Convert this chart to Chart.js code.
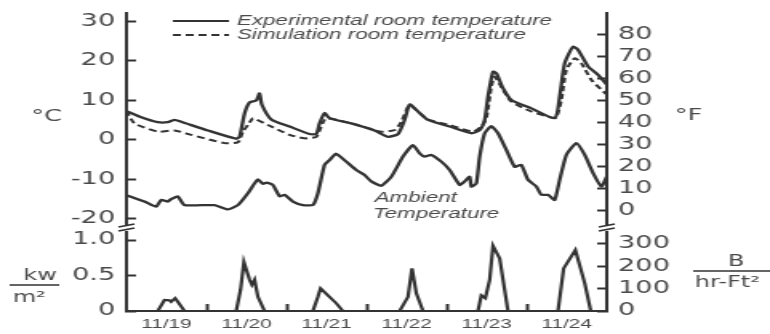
<!DOCTYPE html>
<html>
<head>
<meta charset="utf-8">
<script src="https://cdn.jsdelivr.net/npm/chart.js@4/dist/chart.umd.min.js"></script>
<style>
  html, body { margin: 0; padding: 0; background: #fff; }
  #chart { display: block; width: 770px !important; height: 334px !important; }
</style>
</head>
<body>
<!-- the scanned figure is stretched sideways, so the canvas is drawn narrow and widened by CSS -->
<canvas id="chart" width="481" height="334" style="width:770px;height:334px"></canvas>
<script>
const dayLabels = ["11/19", "11/20", "11/21", "11/22", "11/23", "11/24"];
const dayTickHours = [12, 24, 36, 48, 60, 72, 84, 96, 108, 120, 132];
const tempTicksC = [-20, -10, 0, 10, 20, 30];
const tempTicksF = [0, 10, 20, 30, 40, 50, 60, 70, 80];
const solarTicksKw = [0, 0.5, 1.0];
const solarTicksBtu = [0, 100, 200, 300];

// axis ranges (deg C and kW/m2), right axes are converted from these
const cMin = -22.3, cMax = 32.15;
const kwMax = 1.17;

// hours from 11/19 00:00
const expHours = [0, 4, 9.4, 12.4, 14.4, 16.4, 24.4, 32.9, 33.9, 35.4, 36.9, 38.9, 39.9, 40.6, 43.4, 48.9,
  54.9, 56.9, 57.9, 59.4, 60.9, 67.4, 74.4, 78.4, 81.4, 83.4, 84.9, 86.9, 90.4, 96.9,
  103.4, 105.9, 107.4, 108.4, 109.9, 110.9, 112.9, 115.4, 121.4, 128.4, 129.9, 131.4, 133.9, 135.4, 138.4, 141.4, 144];
const expTempC = [7.3, 5.9, 4.5, 4.5, 5.1, 4.6, 2.4, 0.3, 0.8, 6.7, 9.5, 10, 11.8, 8.9, 5.2, 3.4,
  1.5, 1.5, 4.2, 6.8, 5.5, 4.2, 2.4, 0.8, 1.5, 5.1, 9, 7.6, 5.1, 3.4,
  1.7, 2.5, 5.1, 11, 17.3, 16.9, 13.1, 10.1, 8, 5.5, 11, 19.4, 23.6, 22.8, 18.6, 16.5, 14];

const simHours = [0, 2.4, 9.4, 14.4, 19.4, 29.4, 33.4, 34.9, 36.4, 37.9, 38.9, 43.4, 48.9,
  53.4, 56.9, 58.4, 59.9, 67.4, 76.4, 80.4, 82.4, 84.4, 85.4, 90.4, 96.9,
  103.9, 106.4, 107.9, 109.4, 110.4, 112.9, 115.4, 121.4, 127.4, 128.9, 130.4, 131.9, 134.4, 136.4, 139.4, 144];
const simTempC = [7.3, 4.2, 2.1, 2.4, 1.3, -0.8, -0.6, 2.1, 3.8, 5.5, 5.2, 3.4, 1.3,
  0.4, 0.8, 3.4, 5.5, 4.2, 2.1, 2.5, 4.6, 8.4, 8.6, 5.2, 3.8,
  2.1, 3.4, 5.5, 13.5, 16, 12.7, 9.7, 7.2, 5.7, 5.7, 10.1, 17.7, 20.7, 19.4, 15.2, 11.5];

const ambHours = [0, 5.4, 8.9, 10.4, 12.4, 13.4, 15.4, 17.4, 26.4, 30.4, 33.4, 36.4, 38.4, 39.4, 40.9, 42, 43.9, 45.9, 47.4,
  49.9, 52.9, 55.9, 57.4, 59.4, 60.9, 62.9, 65.9, 68.9, 71.4, 73.4, 76.4, 79.4, 82.9, 85.9, 87.9, 89.4, 91.4, 94.4, 96.9,
  99.9, 101.4, 102.9, 103.4, 104.9, 105.9, 107.4, 109.4, 111.4, 113.9, 116.4, 118.4, 120.4, 122.9, 124.4, 126.4, 128.4,
  129.9, 131.9, 134.9, 137.4, 139.9, 142.4, 144];
const ambTempC = [-14, -15.6, -16.9, -15.2, -15.6, -15, -14.3, -16.5, -16.5, -17.6, -16.5, -13.5, -11, -10, -11.1, -10.8, -11.4, -14.3, -13.9,
  -15.6, -16.5, -16.5, -13.5, -6.3, -5.1, -3.5, -5.5, -7.6, -8.9, -10.5, -11.6, -9.3, -4.2, -1.3, -3.4, -4.2, -3.8, -5.5, -7.6,
  -11.4, -10.5, -9.3, -11.8, -11, -4.2, 1.7, 3.5, 1.7, -2.5, -6.8, -6.3, -10.1, -11.8, -13.9, -13.9, -15.2,
  -10.1, -3.8, -0.8, -3.8, -8.4, -11.8, -9.3];

const solarHours = [0, 9.4, 11.4, 12.9, 13.4, 14.6, 15.4, 17.4, 32.9, 34.2, 35.2, 36.9, 37.6, 38.4, 39.4, 41.4,
  55.9, 57.4, 58.2, 60.4, 62.9, 64.9, 81.9, 84.4, 85.6, 86.9, 88.9,
  105.4, 106.4, 107.6, 108.9, 109.9, 111.9, 114.4, 129.4, 131.1, 134.6, 137.4, 139.2, 144];
const solarKw = [0, 0, 0.155, 0.15, 0.13, 0.18, 0.13, 0, 0, 0.3, 0.69, 0.44, 0.37, 0.44, 0.2, 0,
  0, 0.2, 0.32, 0.22, 0.11, 0, 0, 0.2, 0.6, 0.25, 0,
  0, 0.22, 0.18, 0.44, 0.92, 0.74, 0, 0, 0.6, 0.86, 0.39, 0, 0];

const ink = "#333333";
const textInk = "#4a4a4a";

const pts = (xs, ys) => xs.map((x, i) => ({ x: x, y: ys[i] }));

// texts and marks that sit in the figure itself
const extras = {
  id: "extras",
  afterDraw(chart) {
    const ctx = chart.ctx;
    const a = chart.chartArea;
    const yBreak = chart.scales.yC.bottom;
    ctx.save();
    ctx.fillStyle = textInk;
    ctx.strokeStyle = ink;

    // legend (top left, inside the plot)
    chart.data.datasets.slice(0, 2).forEach((ds, i) => {
      const y = 21 + i * 14;
      ctx.lineWidth = 2;
      ctx.setLineDash(ds.borderDash || []);
      ctx.beginPath();
      ctx.moveTo(108, y);
      ctx.lineTo(143, y);
      ctx.stroke();
      ctx.setLineDash([]);
      ctx.font = "italic 14px 'Liberation Sans'";
      ctx.textAlign = "left";
      ctx.textBaseline = "middle";
      ctx.fillText(ds.label, 148, y);
    });

    ctx.font = "italic 14px 'Liberation Sans'";
    ctx.fillText("Ambient", 234, 198);
    ctx.fillText("Temperature", 233, 214);

    // units
    ctx.font = "16px 'DejaVu Sans'";
    ctx.textAlign = "center";
    ctx.fillText("°C", 29, 117);
    ctx.fillText("°F", 430, 116);

    ctx.font = "15px 'DejaVu Sans'";
    ctx.fillText("kw", 25, 276);
    ctx.fillText("B", 460, 262);
    ctx.textAlign = "left";
    ctx.fillText("m²", 8, 298);
    ctx.fillText("hr-Ft²", 434, 283);
    ctx.lineWidth = 1.5;
    ctx.beginPath();
    ctx.moveTo(6, 285); ctx.lineTo(37, 285);
    ctx.moveTo(433, 271); ctx.lineTo(481, 271);
    ctx.stroke();

    // axis breaks between the two panels
    [a.left, a.right].forEach(x => {
      ctx.fillStyle = "#fff";
      ctx.fillRect(x - 2, yBreak - 3, 4, 6);
      ctx.lineWidth = 1.6;
      ctx.beginPath();
      ctx.moveTo(x - 5, yBreak - 1); ctx.lineTo(x + 5, yBreak - 4);
      ctx.moveTo(x - 5, yBreak + 3); ctx.lineTo(x + 5, yBreak);
      ctx.stroke();
    });
    ctx.restore();
  }
};

const tickFont = { family: "DejaVu Sans", size: 17 };
const yGrid = { drawOnChartArea: false, tickLength: -6, tickWidth: 2, tickColor: ink };
const yBorder = { color: ink, width: 2 };
const setTicks = list => s => { s.ticks = list.map(v => ({ value: v })); };
// fixed axis width, and no extra room reserved for half label heights
const fitY = w => s => { s.width = w; s.paddingTop = 0; s.paddingBottom = 0; };

new Chart(document.getElementById("chart"), {
  type: "line",
  data: {
    datasets: [
      {
        label: "Experimental room temperature",
        data: pts(expHours, expTempC),
        yAxisID: "yC",
        borderColor: ink,
        borderWidth: 2.3,
        tension: 0.2
      },
      {
        label: "Simulation room temperature",
        data: pts(simHours, simTempC),
        yAxisID: "yC",
        borderColor: ink,
        borderWidth: 2,
        borderDash: [5, 3],
        tension: 0.2
      },
      {
        label: "Ambient Temperature",
        data: pts(ambHours, ambTempC),
        yAxisID: "yC",
        borderColor: ink,
        borderWidth: 2.3,
        tension: 0.15
      },
      {
        label: "Solar radiation",
        data: pts(solarHours, solarKw),
        yAxisID: "yKw",
        borderColor: ink,
        borderWidth: 2.2,
        tension: 0
      }
    ]
  },
  options: {
    responsive: false,
    devicePixelRatio: 1,
    animation: false,
    elements: { point: { radius: 0 } },
    layout: { padding: { top: 13, left: 0, right: 0, bottom: 0 } },
    plugins: {
      legend: { display: false },
      tooltip: { enabled: false }
    },
    scales: {
      x: {
        type: "linear",
        min: 0,
        max: 144,
        afterBuildTicks: setTicks(dayTickHours),
        afterFit: s => { s.height = 23; s.paddingLeft = 0; s.paddingRight = 0; },
        ticks: {
          autoSkip: false,
          maxRotation: 0,
          padding: 13,
          color: textInk,
          font: { family: "Liberation Sans", size: 13 },
          callback: v => (v % 24 === 12 ? dayLabels[(v - 12) / 24] : "")
        },
        grid: {
          drawOnChartArea: false,
          tickLength: -7,
          tickWidth: 2,
          tickColor: c => (c.tick && c.tick.value % 24 === 0 ? ink : "rgba(0,0,0,0)")
        },
        border: { color: ink, width: 2 }
      },
      yC: {
        position: "left",
        stack: "left",
        stackWeight: 215,
        weight: 1,
        min: cMin,
        max: cMax,
        afterBuildTicks: setTicks(tempTicksC),
        afterFit: fitY(79),
        ticks: { autoSkip: false, padding: 13, color: textInk, font: tickFont },
        grid: yGrid,
        border: yBorder
      },
      yKw: {
        position: "left",
        stack: "left",
        stackWeight: 83,
        weight: 0,
        min: 0,
        max: kwMax,
        afterBuildTicks: setTicks(solarTicksKw),
        afterFit: fitY(79),
        ticks: {
          autoSkip: false, padding: 13, color: textInk, font: tickFont,
          callback: v => (v === 0 ? "0" : v.toFixed(1))
        },
        grid: yGrid,
        border: yBorder
      },
      yF: {
        position: "right",
        stack: "right",
        stackWeight: 215,
        weight: 0,
        display: true,
        min: cMin * 1.8 + 32,
        max: cMax * 1.8 + 32,
        afterBuildTicks: setTicks(tempTicksF),
        afterFit: fitY(102),
        ticks: { autoSkip: false, padding: 13, color: textInk, font: tickFont },
        grid: yGrid,
        border: yBorder
      },
      yBtu: {
        position: "right",
        stack: "right",
        stackWeight: 83,
        weight: 1,
        display: true,
        min: 0,
        max: kwMax * 317.1,
        afterBuildTicks: setTicks(solarTicksBtu),
        afterFit: fitY(102),
        ticks: { autoSkip: false, padding: 13, color: textInk, font: tickFont },
        grid: yGrid,
        border: yBorder
      }
    }
  },
  plugins: [extras]
});
</script>
</body>
</html>
